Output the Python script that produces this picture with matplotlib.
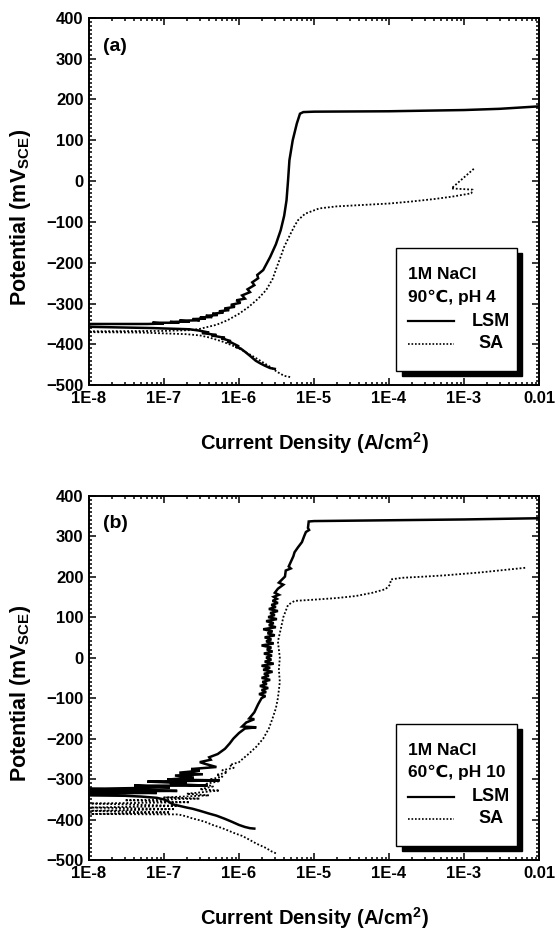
import matplotlib
matplotlib.use('Agg')
import matplotlib.pyplot as plt
from matplotlib.patches import Rectangle
from matplotlib.lines import Line2D
from matplotlib.ticker import MultipleLocator, LogLocator, FixedLocator

plt.rcParams['font.family'] = ['Liberation Sans', 'DejaVu Sans']
plt.rcParams['font.weight'] = 'bold'
plt.rcParams['mathtext.fontset'] = 'custom'
plt.rcParams['mathtext.rm'] = 'Liberation Sans:bold'
plt.rcParams['mathtext.bf'] = 'Liberation Sans:bold'

# (a) 90C pH 4 -- current (A/cm2) and potential (mV) along the sweep
lsm_a_i = [3.0e-6, 2.6e-6, 2.2e-6, 1.9e-6, 1.67e-6, 1.4e-6, 1.2e-6, 1.05e-6, 9e-7, 1e-6,
           8e-7, 7e-7, 7.8e-7, 5.8e-7, 6.5e-7, 4.3e-7, 5e-7, 3.2e-7, 4e-7, 2.9e-7,
           2.2e-7, 1.5e-7, 1e-7, 7e-8, 1e-8,
           1e-8, 6e-8, 1e-7, 7e-8, 1.6e-7, 1.2e-7, 2.2e-7, 1.6e-7, 3e-7, 2.4e-7,
           3.6e-7, 3e-7, 4.4e-7, 3.6e-7, 5.2e-7, 4.4e-7, 6.2e-7, 5.4e-7, 7.4e-7, 6.4e-7,
           8.8e-7, 7.8e-7, 1.05e-6, 9.2e-7, 1.2e-6, 1.1e-6, 1.4e-6, 1.3e-6, 1.6e-6, 1.5e-6,
           1.8e-6, 1.75e-6, 2.1e-6, 2.6e-6, 3.1e-6, 3.6e-6, 4e-6, 4.3e-6, 4.5e-6, 4.7e-6,
           5.2e-6, 5.9e-6, 6.5e-6, 7.2e-6, 1e-5, 1e-4, 1e-3, 3e-3, 1e-2]
lsm_a_e = [-460, -458, -452, -446, -440, -428, -418, -410, -406, -405,
           -396, -394, -392, -385, -384, -378, -377, -372, -371, -366,
           -363, -362, -361, -360, -357,
           -350, -350, -349, -347, -347, -345, -344, -342, -341, -338,
           -337, -334, -333, -330, -328, -325, -322, -319, -316, -312,
           -308, -303, -298, -292, -288, -280, -272, -265, -255, -248,
           -238, -230, -218, -186, -155, -120, -85, -47, 0, 51,
           100, 141, 165, 169, 170, 171, 174, 177, 183]

sa_a_i = [4.8e-6, 4e-6, 3.2e-6, 2.6e-6, 2e-6, 1.5e-6, 1.2e-6, 1e-6, 8e-7, 6e-7,
          4e-7, 3e-7, 2e-7, 1e-7, 5e-8, 1e-8,
          1e-8, 1e-7, 2.3e-7, 3e-7, 5e-7, 7e-7, 1e-6, 1.35e-6, 1.8e-6, 2.3e-6,
          2.8e-6, 3.2e-6, 3.6e-6, 4e-6, 4.9e-6, 5.5e-6, 6.1e-6, 7.6e-6, 1.17e-5, 2e-5,
          5e-5, 1e-4, 2e-4, 4e-4, 7e-4, 1.25e-3, 1.3e-3, 6.8e-4, 1.35e-3]
sa_a_e = [-480, -477, -467, -455, -442, -428, -418, -410, -402, -393,
          -383, -378, -375, -373, -371, -370,
          -368, -367, -365, -362, -352, -341, -325, -308, -288, -267,
          -240, -210, -185, -161, -128, -110, -96, -80, -67, -62,
          -58, -55, -50, -44, -38, -30, -21, -18, 30]

# (b) 60C pH 10
lsm_b_i = [1.6e-6, 1.4e-6, 1.2e-6, 1e-6, 8e-7, 6.5e-7, 5e-7, 4e-7, 3e-7, 2.4e-7,
           2e-7, 1.6e-7, 1.3e-7, 1.15e-7, 1e-7, 8e-8, 5e-8, 3e-8, 1e-8,
           1e-8, 8e-8, 1e-8, 1.5e-7, 1e-8, 4e-8, 1.2e-7, 4e-8, 3.8e-7, 1.2e-7,
           2e-7, 6e-8, 5.5e-7, 1.1e-7, 2.5e-7, 1.4e-7, 3.3e-7, 1.6e-7, 3e-7, 2.3e-7,
           5e-7, 3.5e-7, 3e-7, 4.2e-7, 4e-7, 5.2e-7, 6.5e-7, 7.5e-7, 8.4e-7, 1e-6,
           1.2e-6, 1.7e-6, 1.1e-6, 1.25e-6, 1.6e-6, 1.37e-6, 1.6e-6, 1.8e-6, 2e-6,
           2.25e-6, 1.85e-6, 2.3e-6, 2.0e-6, 2.45e-6, 1.9e-6, 2.35e-6, 2.05e-6, 2.6e-6, 2.0e-6,
           2.5e-6, 2.15e-6, 2.8e-6, 2.1e-6, 2.6e-6, 2.0e-6, 2.9e-6, 2.2e-6, 2.7e-6, 2.3e-6,
           2.75e-6, 2.15e-6, 2.8e-6, 2.35e-6, 2.7e-6, 2.0e-6, 2.9e-6, 2.3e-6, 2.7e-6, 2.2e-6,
           3.0e-6, 2.4e-6, 2.8e-6, 2.1e-6, 3.1e-6, 2.5e-6, 2.9e-6, 2.3e-6, 3.2e-6, 2.45e-6,
           3.0e-6, 2.6e-6, 3.3e-6, 2.5e-6, 3.1e-6, 2.7e-6, 3.3e-6, 2.8e-6, 3.2e-6, 2.9e-6,
           3.4e-6, 3.0e-6, 3.3e-6, 3.9e-6, 3.4e-6, 4.1e-6, 4.2e-6, 4.9e-6, 4.6e-6, 5.3e-6,
           5.5e-6, 6.1e-6, 6.9e-6, 7.4e-6, 7.8e-6, 8.6e-6, 8.3e-6, 8.5e-6,
           1e-5, 1e-4, 1e-3, 1e-2]
lsm_b_e = [-422, -421, -418, -413, -405, -398, -390, -385, -378, -373,
           -370, -366, -362, -355, -350, -346, -343, -341, -340,
           -335, -334, -330, -329, -324, -322, -320, -316, -316, -312,
           -310, -306, -303, -301, -296, -291, -288, -284, -279, -275,
           -270, -262, -258, -252, -246, -238, -225, -212, -200, -186,
           -175, -172, -170, -160, -152, -150, -135, -115, -100,
           -95, -90, -85, -80, -75, -70, -65, -60, -55, -50,
           -45, -40, -35, -30, -25, -20, -15, -10, -5, 0,
           5, 10, 15, 20, 25, 30, 35, 40, 45, 50,
           55, 60, 65, 70, 75, 80, 85, 90, 95, 100,
           105, 110, 115, 120, 125, 130, 135, 140, 145, 150,
           155, 160, 170, 180, 185, 200, 215, 220, 225, 250,
           260, 272, 285, 300, 310, 315, 320, 336,
           337, 339, 341, 344]

sa_b_i = [3.1e-6, 2.7e-6, 2.3e-6, 1.7e-6, 1.3e-6, 1.1e-6, 8.9e-7, 7e-7, 5.8e-7, 4.6e-7,
          3.5e-7, 2.8e-7, 2.4e-7, 2e-7, 1.55e-7, 1e-8, 1.2e-7, 1e-8, 1.4e-7, 1e-8,
          1.7e-7, 1e-8, 2.2e-7, 3e-8, 3e-7, 1e-7, 4e-7, 2e-7, 5.5e-7, 3e-7,
          4.5e-7, 3.5e-7, 5.5e-7, 4.2e-7, 6e-7, 5e-7, 7e-7, 6e-7, 8.5e-7, 7.5e-7,
          1e-6, 1.15e-6, 1.3e-6, 1.7e-6, 2.1e-6, 2.5e-6, 2.8e-6, 3.1e-6, 3.3e-6, 3.5e-6,
          3.4e-6, 3.5e-6, 3.3e-6, 3.6e-6, 3.9e-6, 4.5e-6, 5.5e-6, 1e-5, 2e-5, 3.6e-5,
          6e-5, 9e-5, 1.03e-4, 1.06e-4, 1.5e-4, 3e-4, 5.5e-4, 1.6e-3, 6.8e-3]
sa_b_e = [-483, -478, -470, -459, -447, -440, -434, -426, -420, -414,
          -405, -400, -397, -392, -387, -386, -382, -378, -374, -370,
          -366, -360, -357, -352, -348, -345, -340, -336, -328, -325,
          -318, -312, -305, -300, -294, -289, -284, -278, -272, -265,
          -258, -248, -240, -220, -200, -175, -150, -125, -100, -60,
          -30, 0, 40, 70, 100, 130, 140, 143, 147, 152,
          160, 169, 180, 193, 197, 200, 203, 210, 222]

panels = [
    ('(a)', ['1M NaCl', '90\u2103, pH 4'], lsm_a_i, lsm_a_e, sa_a_i, sa_a_e),
    ('(b)', ['1M NaCl', '60\u2103, pH 10'], lsm_b_i, lsm_b_e, sa_b_i, sa_b_e),
]
xticks = [1e-8, 1e-7, 1e-6, 1e-5, 1e-4, 1e-3, 1e-2]
xticklabels = ['1E-8', '1E-7', '1E-6', '1E-5', '1E-4', '1E-3', '0.01']
yticks = [-500, -400, -300, -200, -100, 0, 100, 200, 300, 400]

fig = plt.figure(figsize=(5.58, 9.35), dpi=100)
positions = [[0.1595, 0.588, 0.8065, 0.393], [0.1595, 0.080, 0.8065, 0.390]]

for pos, (tag, notes, li, le, si, se) in zip(positions, panels):
    ax = fig.add_axes(pos)
    ax.plot(li, le, color='black', lw=1.8, solid_joinstyle='miter')
    ax.plot(si, se, color='black', lw=1.3, linestyle=(0, (1, 1.1)))
    ax.set_xscale('log')
    ax.set_xlim(1e-8, 1e-2)
    ax.set_ylim(-500, 400)
    ax.xaxis.set_major_locator(FixedLocator(xticks))
    ax.set_xticklabels(xticklabels)
    ax.xaxis.set_minor_locator(LogLocator(base=10, subs=range(2, 10), numticks=20))
    ax.set_yticks(yticks)
    ax.yaxis.set_minor_locator(MultipleLocator(10))
    ax.tick_params(which='both', direction='in', top=True, right=True, width=1.1)
    ax.tick_params(which='major', length=5, labelsize=12, pad=4)
    ax.tick_params(which='minor', length=2.5)
    for lab in ax.get_xticklabels() + ax.get_yticklabels():
        lab.set_fontweight('bold')
    for sp in ax.spines.values():
        sp.set_linewidth(1.4)

    ax.set_xlabel(r'Current Density (A/cm$^{\mathrm{2}}$)', fontsize=14.5, fontweight='bold')
    ax.xaxis.set_label_coords(0.5, -0.158)
    ax.xaxis.label.set_verticalalignment('center')
    ax.set_ylabel(r'Potential (mV$_{\mathrm{SCE}}$)', fontsize=15.5, fontweight='bold')
    ax.yaxis.set_label_coords(-0.152, 0.456)
    ax.yaxis.label.set_verticalalignment('center')

    ax.text(0.032, 0.922, tag, transform=ax.transAxes, fontsize=14,
            fontweight='bold', va='center', ha='left')

    # legend box with black drop shadow
    bx0, bx1, by0, by1 = 0.682, 0.950, 0.040, 0.374
    ax.add_patch(Rectangle((bx0 + 0.013, by0 - 0.014), bx1 - bx0, by1 - by0,
                           transform=ax.transAxes, fc='black', ec='black', zorder=5))
    ax.add_patch(Rectangle((bx0, by0), bx1 - bx0, by1 - by0, transform=ax.transAxes,
                           fc='white', ec='black', lw=1.0, zorder=6))
    ax.text(0.708, 0.302, notes[0], transform=ax.transAxes, fontsize=12.5,
            fontweight='bold', va='center', ha='left', zorder=7)
    ax.text(0.708, 0.240, notes[1], transform=ax.transAxes, fontsize=12.5,
            fontweight='bold', va='center', ha='left', zorder=7)
    ax.add_line(Line2D([0.708, 0.810], [0.174, 0.174], transform=ax.transAxes,
                       color='black', lw=1.6, zorder=7))
    ax.add_line(Line2D([0.708, 0.810], [0.113, 0.113], transform=ax.transAxes,
                       color='black', lw=1.2, linestyle=(0, (1, 1.1)), zorder=7))
    ax.text(0.893, 0.174, 'LSM', transform=ax.transAxes, fontsize=13,
            fontweight='bold', va='center', ha='center', zorder=7)
    ax.text(0.893, 0.113, 'SA', transform=ax.transAxes, fontsize=13,
            fontweight='bold', va='center', ha='center', zorder=7)

fig.savefig('out.png', dpi=100)
